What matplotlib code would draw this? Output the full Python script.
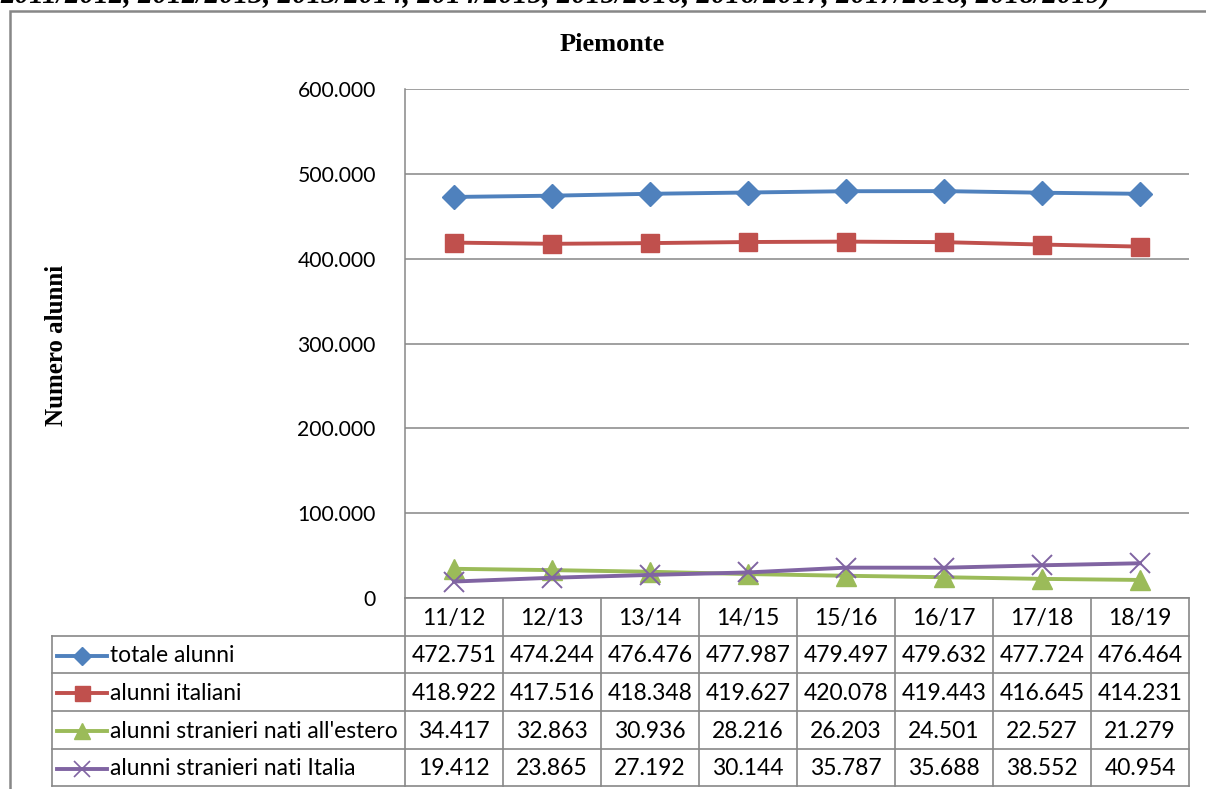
import matplotlib
matplotlib.use("Agg")
import matplotlib.pyplot as plt
from matplotlib.ticker import FuncFormatter

# dati (anni scolastici 2011/12 - 2018/19)
anni = ["11/12", "12/13", "13/14", "14/15", "15/16", "16/17", "17/18", "18/19"]
totale_alunni = [472751, 474244, 476476, 477987, 479497, 479632, 477724, 476464]
alunni_italiani = [418922, 417516, 418348, 419627, 420078, 419443, 416645, 414231]
stranieri_estero = [34417, 32863, 30936, 28216, 26203, 24501, 22527, 21279]
stranieri_italia = [19412, 23865, 27192, 30144, 35787, 35688, 38552, 40954]
etichette = ["totale alunni", "alunni italiani",
             "alunni stranieri nati all'estero", "alunni stranieri nati Italia"]

serie = [totale_alunni, alunni_italiani, stranieri_estero, stranieri_italia]
colori = ["#4F81BD", "#C0504D", "#9BBB59", "#8064A2"]
marker = ["D", "s", "^", "x"]
msize = [12, 13.5, 14, 14]

W, H = 1206, 789
sans = "Lato"
serif = "Liberation Serif"
grigio = "#888888"


def punti(v):
    return f"{int(v):,}".replace(",", ".")


fig = plt.figure(figsize=(W / 100, H / 100), dpi=100)

# overlay in pixel coordinates for frame, title and table
bg = fig.add_axes([0, 0, 1, 1])
bg.set_xlim(0, W)
bg.set_ylim(H, 0)
bg.axis("off")

# cornice esterna
bg.plot([10, 10, W], [H, 11, 11], color="#878787", lw=1.8, solid_joinstyle="miter")

# testo tagliato in alto (riga precedente della pagina)
bg.text(0, 3, "2011/2012, 2012/2013, 2013/2014, 2014/2015, 2015/2016, 2016/2017, 2017/2018, 2018/2019)",
        fontfamily=serif, fontstyle="italic", fontweight="bold", fontsize=21,
        ha="left", va="baseline")

bg.text(612, 44, "Piemonte", fontfamily=serif, fontweight="bold", fontsize=19,
        ha="center", va="center")
bg.text(57, 345, "Numero alunni", fontfamily=serif, fontweight="bold", fontsize=18,
        rotation=90, ha="center", va="center")

# grafico
x0, x1, y0, y1 = 405, 1189, 89, 598
ax = fig.add_axes([x0 / W, 1 - y1 / H, (x1 - x0) / W, (y1 - y0) / H])
ax.set_facecolor("none")
ax.set_xlim(-0.5, len(anni) - 0.5)
ax.set_ylim(0, 600000)
ax.set_yticks(range(0, 600001, 100000))
ax.yaxis.set_major_formatter(FuncFormatter(lambda v, p: punti(v)))
ax.set_xticks([])
ax.yaxis.grid(True, color="#868686", lw=1.1)
ax.set_axisbelow(True)
for s in ["top", "right", "bottom"]:
    ax.spines[s].set_visible(False)
ax.spines["left"].set_color(grigio)
ax.spines["left"].set_linewidth(1.1)
ax.tick_params(axis="y", length=0, pad=21, labelsize=15.2)
for lab in ax.get_yticklabels():
    lab.set_fontfamily(sans)

for vals, c, m, ms in zip(serie, colori, marker, msize):
    ax.plot(range(len(anni)), vals, color=c, lw=2.8, marker=m, ms=ms,
            mfc=c, mec=c, mew=1.4 if m == "x" else 1, clip_on=False)

# tabella dati
col_w = (x1 - x0) / len(anni)
righe = [598, 636, 673, 711, 749, 786]
lw_t = 1.2
bg.plot([x0, x1], [righe[0], righe[0]], color=grigio, lw=lw_t)
for r in righe[1:]:
    bg.plot([52, x1], [r, r], color=grigio, lw=lw_t)
for i in range(len(anni) + 1):
    bg.plot([x0 + i * col_w] * 2, [righe[0], righe[-1]], color=grigio, lw=lw_t)
bg.plot([52, 52], [righe[1], righe[-1]], color=grigio, lw=lw_t)

for i, a in enumerate(anni):
    bg.text(x0 + (i + 0.5) * col_w, (righe[0] + righe[1]) / 2 + 1, a,
            fontfamily=sans, fontsize=16.5, ha="center", va="center")

for k, (vals, lab) in enumerate(zip(serie, etichette)):
    yc = (righe[k + 1] + righe[k + 2]) / 2 + 1
    bg.plot([57, 107], [yc, yc], color=colori[k], lw=2.8)
    bg.plot([82], [yc], color=colori[k], marker=marker[k], ms=msize[k] * 0.8,
            mfc=colori[k], mec=colori[k], mew=1.2 if marker[k] == "x" else 1)
    bg.text(110, yc, lab, fontfamily=sans, fontsize=16.4, ha="left", va="center")
    for i, v in enumerate(vals):
        bg.text(x0 + (i + 0.5) * col_w, yc, punti(v),
                fontfamily=sans, fontsize=16.5, ha="center", va="center")

fig.savefig("out.png", dpi=100)
